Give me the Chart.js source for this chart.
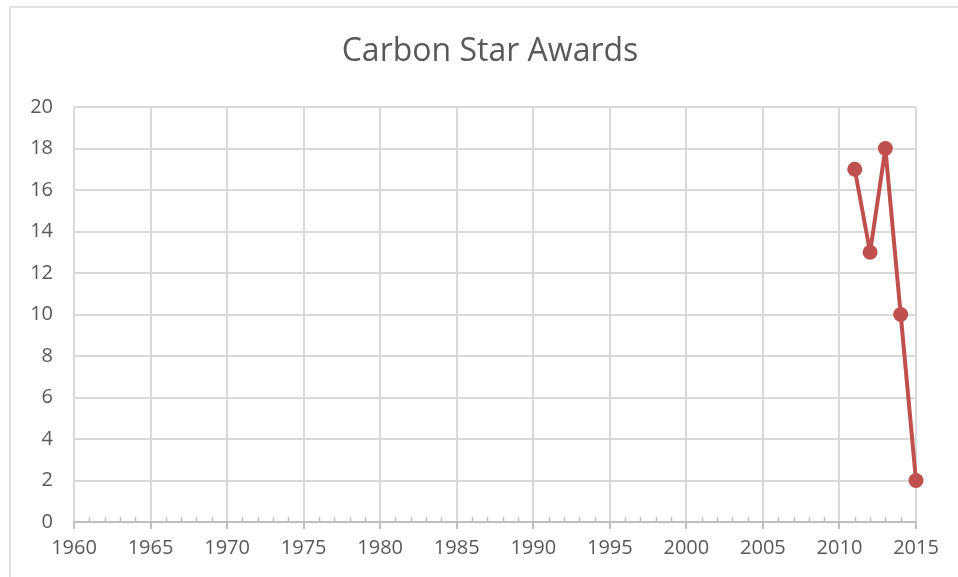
<!DOCTYPE html>
<html>
<head>
<meta charset="utf-8">
<script src="https://cdn.jsdelivr.net/npm/chart.js@4/dist/chart.umd.min.js"></script>
<style>
  html, body { margin: 0; padding: 0; background: #fff; }
  #wrap { position: absolute; left: 0; top: 0; width: 958px; height: 577px; }
</style>
</head>
<body>
<div id="wrap"><canvas id="myChart" width="958" height="577"></canvas></div>
<script>
const chartTitle = 'Carbon Star Awards'
const years = [2011, 2012, 2013, 2014, 2015]
const awards = [17, 13, 18, 10, 2]
const xMin = 1960, xMax = 2015, xStep = 5
const yMin = 0, yMax = 20, yStep = 2

const gridGray = '#d9d9d9'
const axisGray = '#bfbfbf'
const textGray = '#595959'
const lineRed = '#c0504d'

// outer chart border like the spreadsheet frame, plus the title
const frame = {
  id: 'frame',
  beforeDraw(chart) {
    const c = chart.ctx
    c.save()
    c.fillStyle = '#fff'
    c.fillRect(0, 0, chart.width, chart.height)
    c.strokeStyle = '#d9d9d9'
    c.lineWidth = 1.5
    c.strokeRect(10, 7, chart.width + 20, chart.height + 20)
    c.fillStyle = textGray
    c.font = '32px "Open Sans"'
    c.textAlign = 'center'
    c.textBaseline = 'middle'
    c.fillText(chartTitle, 490, 52)
    c.restore()
  }
}

// small yearly ticks sitting on top of the x axis
const minorTicks = {
  id: 'minorTicks',
  afterDatasetsDraw(chart) {
    const x = chart.scales.x
    const bottom = chart.chartArea.bottom
    const c = chart.ctx
    c.save()
    c.strokeStyle = axisGray
    c.lineWidth = 1.5
    for (let yr = xMin; yr <= xMax; yr++) {
      if (yr % xStep == 0) continue
      const px = Math.round(x.getPixelForValue(yr)) + 0.5
      c.beginPath()
      c.moveTo(px, bottom - 5)
      c.lineTo(px, bottom)
      c.stroke()
    }
    c.restore()
  }
}

const ctx = document.getElementById('myChart').getContext('2d')
const myChart = new Chart(ctx, {
  type: 'line',
  data: {
    datasets: [{
      label: chartTitle,
      data: years.map((y, i) => ({ x: y, y: awards[i] })),
      borderColor: lineRed,
      backgroundColor: lineRed,
      borderWidth: 4,
      borderJoinStyle: 'round',
      borderCapStyle: 'round',
      pointRadius: 7.5,
      pointHoverRadius: 7.5,
      pointBorderWidth: 0,
      tension: 0,
      clip: false
    }]
  },
  options: {
    responsive: false,
    animation: false,
    layout: { padding: { left: 0, right: 42, top: 107, bottom: 0 } },
    plugins: {
      legend: { display: false },
      tooltip: { enabled: false },
      title: { display: false }
    },
    scales: {
      x: {
        type: 'linear',
        min: xMin,
        max: xMax,
        afterFit(scale) { scale.height = 55 },
        border: { color: axisGray, width: 2 },
        grid: {
          color: gridGray,
          lineWidth: 2,
          drawTicks: true,
          tickLength: 7,
          tickColor: axisGray,
          tickWidth: 2
        },
        ticks: {
          stepSize: xStep,
          color: textGray,
          font: { family: 'Open Sans', size: 20 },
          padding: 7,
          maxRotation: 0,
          autoSkip: false,
          callback: v => String(v)
        }
      },
      y: {
        min: yMin,
        max: yMax,
        afterFit(scale) { scale.width = 74 },
        border: { display: false },
        grid: { color: gridGray, lineWidth: 2, drawTicks: false },
        ticks: {
          stepSize: yStep,
          color: textGray,
          font: { family: 'Open Sans', size: 20 },
          padding: 21
        }
      }
    }
  },
  plugins: [frame, minorTicks]
})
</script>
</body>
</html>
